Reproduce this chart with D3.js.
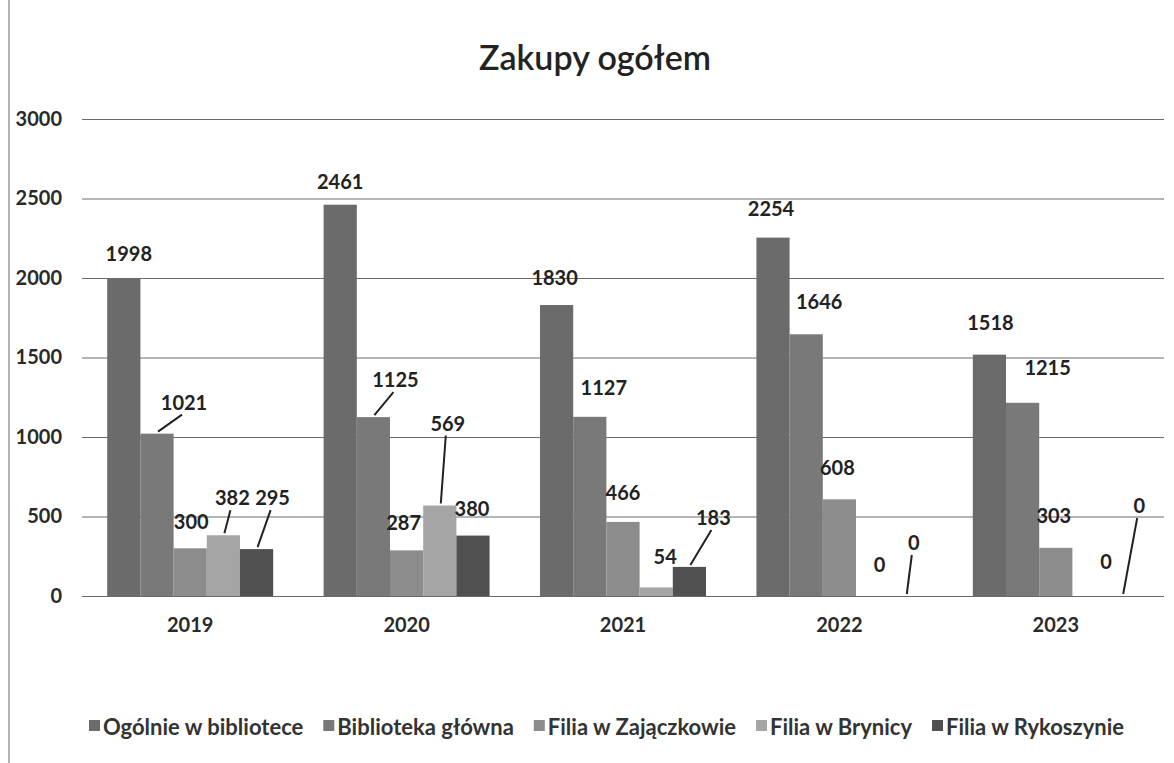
<!DOCTYPE html>
<html>
<head>
<meta charset="utf-8">
<script src="https://cdn.jsdelivr.net/npm/d3@7"></script>
<style>
  body { margin: 0; background: #fff; }
  svg { display: block; font-family: Lato, "Open Sans", sans-serif; }
</style>
</head>
<body>
<svg id="chart" width="1174" height="763"></svg>
<script>
// data
const years = ["2019", "2020", "2021", "2022", "2023"];
const seriesNames = ["Ogólnie w bibliotece", "Biblioteka główna", "Filia w Zajączkowie", "Filia w Brynicy", "Filia w Rykoszynie"];
const ogolnie = [1998, 2461, 1830, 2254, 1518];
const glowna = [1021, 1125, 1127, 1646, 1215];
const zajaczkowo = [300, 287, 466, 608, 303];
const brynica = [382, 569, 54, 0, 0];
const rykoszyn = [295, 380, 183, 0, 0];
const yTicks = [0, 500, 1000, 1500, 2000, 2500, 3000];

const values = [ogolnie, glowna, zajaczkowo, brynica, rykoszyn];
const colors = ["#6b6b6b", "#797979", "#8c8c8c", "#a5a5a5", "#505050"];

// label shifts (dx, dy from bar top centre) as they were dragged in the original, plus leader line flag
const labelShift = [
    [[5, -25, 0], [0, -24, 0], [-2, -28, 0], [-2, -30, 0], [1, -33, 0]],
    [[27, -32, 1], [22, -38, 1], [14, -30, 0], [13, -33, 0], [25, -36, 0]],
    [[1, -27, 0], [-3, -28, 0], [0, -30, 0], [-2, -32, 0], [-2, -33, 0]],
    [[9, -38, 1], [8, -83, 1], [9, -31, 0], [7, -32, 0], [17, -35, 0]],
    [[16, -52, 1], [-1, -28, 0], [24, -50, 1], [8, -54, 1], [17, -91, 1]]
];

const svg = d3.select("#chart");
const plotLeft = 82, plotRight = 1164, plotTop = 119, plotBottom = 596;

const x0 = d3.scaleBand().domain(years).range([plotLeft, plotRight]).paddingInner(0.233).paddingOuter(0.1165);
const x1 = d3.scaleBand().domain(d3.range(seriesNames.length)).range([0, x0.bandwidth()]);
const y = d3.scaleLinear().domain([0, 3000]).range([plotBottom, plotTop]);

// chart frame edge from the scan
svg.append("line").attr("x1", 9).attr("x2", 9).attr("y1", 0).attr("y2", 763)
    .attr("stroke", "#9a9a9a").attr("stroke-width", 1.5);

svg.append("text")
    .attr("x", 595).attr("y", 70)
    .attr("text-anchor", "middle")
    .style("font-size", "34px").style("font-weight", 600).style("fill", "#222")
    .text("Zakupy ogółem");

// gridlines + y labels
const yAxis = d3.axisLeft(y).tickValues(yTicks).tickFormat(d3.format("d"))
    .tickSize(-(plotRight - plotLeft)).tickPadding(20);
const gy = svg.append("g").attr("transform", "translate(" + plotLeft + ",0)").call(yAxis);
gy.select(".domain").remove();
gy.selectAll(".tick line").attr("stroke", "#6a6a6a").attr("stroke-width", 1);
gy.selectAll(".tick text")
    .style("font-size", "20px").style("font-weight", 700).style("fill", "#2a2a2a")
    .style("font-family", "Lato, sans-serif");

// bars
const groups = svg.append("g").selectAll("g")
    .data(years)
    .join("g")
    .attr("transform", d => "translate(" + x0(d) + ",0)");

for (let s = 0; s < seriesNames.length; s++) {
    groups.append("rect")
        .attr("x", x1(s))
        .attr("width", x1.bandwidth())
        .attr("y", (d, i) => y(values[s][i]))
        .attr("height", (d, i) => plotBottom - y(values[s][i]))
        .attr("fill", colors[s]);
}

// data labels + leader lines
const lbl = svg.append("g");
for (let s = 0; s < seriesNames.length; s++) {
    years.forEach(function (yr, i) {
        let cx = x0(yr) + x1(s) + x1.bandwidth() / 2;
        let ty = y(values[s][i]);
        let sh = labelShift[s][i];
        let lx = cx + sh[0], ly = ty + sh[1];
        if (sh[2]) {
            lbl.append("line")
                .attr("x1", lx - 2).attr("y1", ly + 13)
                .attr("x2", cx + 1).attr("y2", ty - 2)
                .attr("stroke", "#222").attr("stroke-width", 2);
        }
        lbl.append("text")
            .attr("x", lx).attr("y", ly)
            .attr("text-anchor", "middle")
            .attr("dominant-baseline", "central")
            .style("font-size", "20px").style("font-weight", 700).style("fill", "#222")
            .text(values[s][i]);
    });
}

// x labels
const xAxis = d3.axisBottom(x0).tickSize(0).tickPadding(22);
const gx = svg.append("g").attr("transform", "translate(0," + plotBottom + ")").call(xAxis);
gx.select(".domain").remove();
gx.selectAll(".tick text")
    .style("font-size", "20px").style("font-weight", 700).style("fill", "#2a2a2a")
    .style("font-family", "Lato, sans-serif");

// legend
const legend = svg.append("g");
let legX = 89;
seriesNames.forEach(function (name, s) {
    legend.append("rect").attr("x", legX).attr("y", 720).attr("width", 11).attr("height", 11).attr("fill", colors[s]);
    let t = legend.append("text")
        .attr("x", legX + 14).attr("y", 726)
        .attr("dominant-baseline", "central")
        .style("font-size", "22px").style("font-weight", 700).style("fill", "#333")
        .text(name);
    legX += 14 + t.node().getComputedTextLength() + 20;
});
</script>
</body>
</html>
